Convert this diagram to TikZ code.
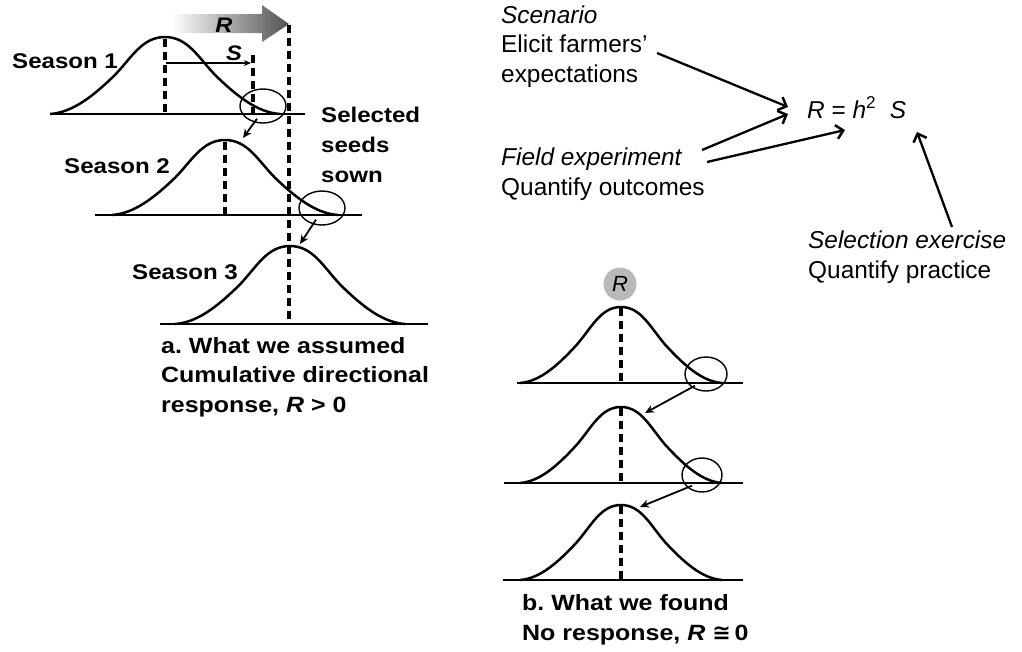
\documentclass[tikz,border=0pt]{standalone}
\usepackage{fontspec}
\setmainfont{Liberation Sans}
\newfontfamily\lbf{Liberation Sans}[FakeStretch=1.13]
\newfontfamily\dejavu{DejaVu Sans}
\usetikzlibrary{arrows.meta,shapes.geometric}
\frenchspacing
\newcommand\lfont{\lbf\bfseries\fontsize{21.3}{30}\selectfont}
\newcommand\capfont{\lbf\bfseries\fontsize{22.1}{29.5}\selectfont}
\newcommand\rfont{\fontsize{24.4}{29.5}\selectfont}
\newcommand\bellcurve[4]{%
  \begin{scope}[shift={(#1,#2)},x=#3pt,y=#4pt]
    \draw[curve] (-1,0) .. controls (-0.8,0.02) and (-0.62,0.24) .. (-0.44,0.5)
      .. controls (-0.29,0.73) and (-0.2,1) .. (0,1)
      .. controls (0.2,1) and (0.29,0.73) .. (0.44,0.5)
      .. controls (0.62,0.24) and (0.8,0.02) .. (1,0);
  \end{scope}}
\begin{document}
\begin{tikzpicture}[x=1pt,y=-1pt,
  curve/.style={line width=2.5pt,line join=round},
  baseline/.style={line width=2.1pt},
  dline/.style={line width=3.6pt,dash pattern=on 8pt off 5pt},
  ell/.style={draw,ellipse,line width=1.4pt,inner sep=0pt},
  smallarr/.style={line width=1.8pt,-{Stealth[length=9pt,width=8pt]}},
  bigarr/.style={line width=2.3pt,-{Straight Barb[length=7pt,width=14pt,line width=2.5pt]}},
  lbl/.style={anchor=base west,font=\lfont,align=left,inner sep=0pt},
  rtxt/.style={anchor=base west,font=\rfont,align=left,inner sep=0pt}]
\useasboundingbox[fill=white] (0,0) rectangle (1022,651);

% ---------- panel a ----------
\shade[left color=white,right color=black!68]
  (172,14) -- (262,14) -- (262,5) -- (289,24) -- (262,42) -- (262,33) -- (172,33) -- cycle;
\node[font=\lbf\bfseries\itshape\fontsize{21}{21}\selectfont,inner sep=0pt] (rlab) at (224,25) {R};

% baselines
\draw[baseline] (50,114) -- (305,114);
\draw[baseline] (95,215) -- (362,215);
\draw[baseline] (160,324) -- (428,324);

% bells
\bellcurve{165}{114}{115}{77}
\bellcurve{225}{215}{113}{75}
\bellcurve{290}{324}{115}{78}

% dashed lines
\draw[dline] (165,39) -- (165,114);
\draw[dline] (225,142) -- (225,215);
\draw[dline] (253,55) -- (253,114);
\draw[dline] (289,25) -- (289,324);

% S arrow
\coordinate (m1) at (166,63);
\coordinate (sEnd) at (251,63);
\draw[line width=1.5pt,-{Stealth[length=7pt,width=6pt]}] (m1) -- (sEnd);
\node[font=\lbf\bfseries\itshape\fontsize{21}{21}\selectfont,inner sep=0pt] (slab) at (234,53) {S};

% ellipses and arrows
\node[ell,minimum width=46pt,minimum height=34pt] (e1) at (263,106) {};
\node[ell,minimum width=46pt,minimum height=34pt] (e2) at (322,208) {};
\coordinate (t2) at (243,138);
\coordinate (t3) at (300,244);
\draw[smallarr] ([xshift=-6pt,yshift=5pt]e1.south) -- (t2);
\draw[smallarr] ([xshift=-6pt,yshift=6pt]e2.south) -- (t3);

% labels
\node[lbl] (s1) at (12,68) {Season 1};
\node[lbl] (s2) at (64,173) {Season 2};
\node[lbl] (s3) at (132,279) {Season 3};
\node[lbl] (sel) at (321,182) {Selected\\seeds\\sown};
\node[anchor=base west,font=\capfont,align=left,inner sep=0pt] (capa) at (161,412)
  {a. What we assumed\\Cumulative directional\\response, \textit{R} > 0};

% ---------- formula part ----------
\node[rtxt] (scen) at (501,82) {\textit{Scenario}\\Elicit farmers'\\expectations};
\node[rtxt] (field) at (501,195) {\textit{Field experiment}\\Quantify outcomes};
\node[rtxt] (selx) at (808,278) {\textit{Selection exercise}\\Quantify practice};
\node[anchor=base west,font=\rfont,inner sep=0pt] (eq) at (807,118)
  {\textit{R} = \textit{h}\textsuperscript{2}\ \ \textit{S}};

\coordinate (a1s) at (657,53);  \coordinate (a1e) at (788,107);
\coordinate (a2s) at (702,150); \coordinate (a2e) at (788,114);
\coordinate (a3s) at (707,162); \coordinate (a3e) at (845,130);
\coordinate (a4s) at (952,227); \coordinate (a4e) at (917,132);
\draw[bigarr] (a1s) -- (a1e);
\draw[bigarr] (a2s) -- (a2e);
\draw[bigarr] (a3s) -- (a3e);
\draw[bigarr] (a4s) -- (a4e);

% ---------- panel b ----------
\node[circle,fill=gray!55,minimum size=33pt,inner sep=0pt,
  font=\itshape\fontsize{22}{22}\selectfont] (rc) at (620,284) {R};

\draw[baseline] (517,383) -- (743,383);
\draw[baseline] (504,483) -- (743,483);
\draw[baseline] (503,580) -- (743,580);

\bellcurve{621}{383}{101}{76}
\bellcurve{621}{483}{101}{76}
\bellcurve{621}{580}{101}{75}

\draw[dline] (621,308) -- (621,383);
\draw[dline] (621,408) -- (621,483);
\draw[dline] (621,506) -- (621,580);

\node[ell,minimum width=42pt,minimum height=34pt] (e3) at (706,374) {};
\node[ell,minimum width=40pt,minimum height=34pt] (e4) at (702,475) {};
\coordinate (t4) at (645,413);
\coordinate (t5) at (640,507);
\draw[smallarr] ([xshift=-11pt,yshift=6pt]e3.south) -- (t4);
\draw[smallarr] ([xshift=-10pt,yshift=7pt]e4.south) -- (t5);

\node[anchor=base west,font=\capfont,align=left,inner sep=0pt] (capb) at (522,640)
  {b. What we found\\No response, \textit{R} {\dejavu\bfseries ≅}\,0};
\end{tikzpicture}
\end{document}
